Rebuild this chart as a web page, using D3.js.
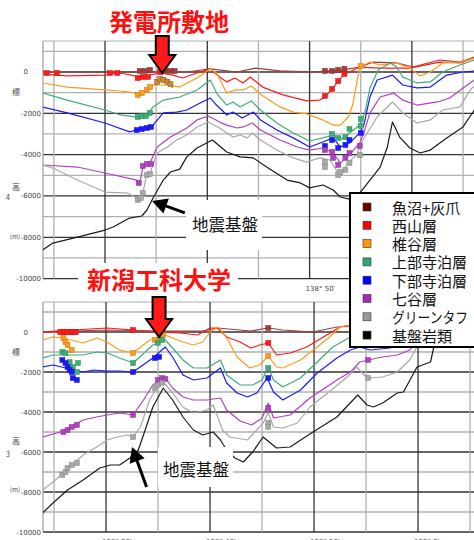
<!DOCTYPE html>
<html lang="ja">
<head>
<meta charset="utf-8">
<title>地質断面図</title>
<script src="https://d3js.org/d3.v7.min.js"></script>
<style>
  body { margin: 0; background: #fff; }
  svg { display: block; }
  .tick { font-family: "DejaVu Sans", sans-serif; font-size: 7px; fill: #444; }
  .jp { font-family: "Noto Sans CJK JP", sans-serif; }
</style>
</head>
<body>
<svg width="474" height="540"></svg>
<script>
// layer names / colours
const layerNames = ["魚沼+灰爪", "西山層", "椎谷層", "上部寺泊層", "下部寺泊層", "七谷層", "グリーンタフ", "基盤岩類"];
const lineColors = ["#a43c3c", "#ff1a1a", "#ff9a1a", "#3cae78", "#1a1aff", "#b040c0", "#a8a8a8", "#1a1a1a"];
const legendColors = ["#6b0000", "#ff0000", "#ff9900", "#2fa870", "#0000ff", "#a828b8", "#999999", "#000000"];

// ---- 発電所敷地 section: [longitude minutes after 138°, elevation m]
const plantUonuma = [[23.9,0],[31.5,0],[34.7,0],[38.0,0],[40.3,150],[42.9,0],[44.7,190],[47.1,50],[50.3,0],[53.3,100],[54.9,240],[56.2,480],[58.5,440],[60.1,240],[62.7,580],[64.7,480],[66.1,730]];
const plantNishiyama = [[23.9,-100],[26.3,-190],[30.0,-150],[31.5,-50],[33.4,-240],[35.4,-50],[36.6,-150],[37.6,-290],[39.0,-50],[40.3,150],[41.2,-240],[41.9,-480],[42.7,-290],[43.5,-530],[44.2,-240],[45.4,-730],[47.4,-1110],[49.7,-1400],[51.0,-1360],[51.6,-1160],[52.2,-820],[52.8,-440],[53.4,-100],[53.9,0],[54.9,240],[56.9,190],[59.8,190],[62.7,480],[64.7,440],[66.1,680]];
const plantShiiya = [[23.9,-530],[26.3,-730],[30.0,-870],[31.5,-920],[33.1,-1020],[34.1,-870],[34.7,-630],[36.1,-630],[37.3,-730],[39.0,-290],[40.3,150],[40.9,-50],[41.9,-1020],[42.7,-870],[43.5,-870],[44.3,-680],[45.3,-1110],[47.1,-1690],[48.4,-1940],[49.7,-2030],[51.3,-2320],[52.3,-2570],[53.0,-2570],[53.8,-2180],[54.2,-1600],[54.9,240],[55.9,480],[56.9,340],[58.5,440],[59.8,190],[60.8,-190],[61.8,0],[63.0,440],[64.7,480],[66.1,680]];
const plantShiiyaArc = [[34.9,-630],[35.3,-390],[35.7,-290],[36.2,-390],[36.6,-770]];
const plantUpperTeradomari = [[23.9,-1020],[26.3,-1360],[30.0,-1840],[31.5,-2080],[33.2,-2180],[34.1,-2080],[34.7,-1690],[35.7,-1360],[37.3,-1210],[39.0,-870],[40.3,-390],[40.9,-1020],[41.9,-1600],[42.5,-1450],[43.2,-1690],[44.3,-1400],[45.2,-1840],[46.8,-2470],[48.4,-2950],[50.0,-3340],[51.3,-3190],[52.3,-3050],[53.0,-3290],[53.9,-2950],[54.9,-2570],[55.4,-1980],[55.9,-770],[56.7,100],[57.9,440],[58.5,240],[59.1,-240],[60.5,-530],[61.8,-480],[63.0,0],[64.7,340],[66.1,580]];
const plantLowerTeradomari = [[23.9,-1690],[26.3,-1980],[30.0,-2470],[32.4,-2900],[33.4,-2760],[34.7,-2570],[35.7,-1980],[37.0,-1940],[38.0,-1840],[39.3,-1500],[40.3,-1260],[40.9,-1600],[41.9,-2080],[42.5,-1940],[43.4,-2230],[44.5,-1940],[45.2,-2320],[46.8,-2810],[48.4,-3190],[50.0,-3630],[51.3,-3390],[52.3,-3190],[53.0,-3630],[53.9,-3440],[54.9,-2950],[55.3,-2570],[55.9,-1210],[56.6,-390],[58.1,-150],[59.1,-630],[60.5,-770],[61.8,-730],[63.4,-150],[65.0,0],[66.1,50]];
const plantNanatani = [[23.9,-4500],[27.3,-4600],[30.0,-4890],[33.1,-5230],[33.4,-5370],[33.7,-4600],[34.4,-4400],[35.1,-3630],[36.4,-3150],[38.0,-2710],[39.0,-2320],[40.1,-2130],[41.2,-2420],[41.9,-2570],[42.9,-2710],[43.5,-2660],[44.4,-2470],[45.2,-2810],[47.1,-3290],[48.8,-3630],[50.0,-3780],[51.3,-3680],[52.3,-3920],[53.0,-4400],[53.7,-4110],[54.9,-3440],[55.3,-2950],[55.9,-1980],[56.9,-1210],[58.2,-1020],[59.1,-1360],[60.5,-1600],[62.5,-1450],[63.7,-1260],[65.0,-770],[66.1,-390]];
const plantGreenTuff = [[23.9,-4500],[24.9,-4650],[27.3,-5230],[30.0,-5810],[32.2,-5860],[33.1,-6100],[33.7,-5860],[34.1,-4890],[34.4,-4890],[35.1,-3920],[36.1,-3630],[37.0,-3290],[38.0,-3050],[39.0,-2660],[40.1,-2420],[41.2,-2710],[41.9,-2950],[42.5,-3150],[43.2,-3050],[43.9,-3190],[44.4,-2950],[45.2,-3290],[46.8,-3780],[48.4,-4160],[49.7,-4360],[51.0,-4160],[52.0,-4260],[52.7,-4840],[53.1,-4990],[53.7,-4400],[54.6,-4020],[55.2,-3290],[56.6,-2180],[58.1,-1450],[59.1,-1980],[60.5,-2470],[61.8,-2320],[63.0,-1840],[64.7,-1690],[65.7,-870],[66.1,-680]];
const plantBasement = [[23.9,-8620],[24.9,-8280],[27.3,-7990],[30.0,-7650],[30.8,-7500],[32.4,-7070],[33.6,-6970],[34.1,-6680],[34.7,-6100],[35.7,-5230],[36.4,-4840],[37.3,-4700],[38.0,-4110],[39.0,-3680],[40.5,-3290],[41.9,-3870],[43.2,-4110],[44.5,-4160],[45.8,-4600],[47.8,-5230],[49.1,-5370],[50.0,-5610],[51.3,-5470],[52.3,-5710],[53.0,-6050],[53.9,-6150],[54.9,-5860],[55.9,-5230],[56.9,-4600],[57.6,-3630],[58.1,-2420],[58.8,-3150],[59.8,-3680],[60.8,-3920],[61.8,-3780],[63.4,-3190],[65.0,-2660],[66.1,-1840]];

// well picks (squares)
const plantUonumaPts = [[33.4,50],[33.9,50],[34.4,100],[35.9,50],[36.4,50],[36.8,50],[51.5,50],[52.2,50],[52.8,100],[53.4,150]];
const plantNishiyamaPts = [[24.3,-50],[25.3,-50],[30.5,-50],[31.2,-50],[33.2,-290],[33.7,-240],[34.2,-240],[35.4,0],[51.5,-1160],[52.2,-820],[52.8,-440],[53.4,-100]];
const plantShiiyaPts = [[33.2,-1110],[33.6,-1020],[34.1,-870],[34.4,-730],[55.0,290]];
const plantShiiyaArcPts = [[35.1,-480],[35.4,-340],[35.7,-390],[36.1,-480],[36.4,-580]];
const plantUpperTeradomariPts = [[33.2,-2180],[33.6,-2130],[34.0,-2130],[34.4,-1980],[52.2,-3000],[52.8,-3190],[53.5,-3150],[53.9,-2760],[55.0,-2610],[55.0,-2280]];
const plantLowerTeradomariPts = [[33.1,-2810],[33.6,-2760],[34.1,-2710],[34.5,-2660],[51.5,-3580],[52.2,-3290],[52.8,-3680],[53.5,-3530],[53.9,-3290],[55.0,-2950]];
const plantNanataniPts = [[33.3,-5370],[33.7,-4550],[34.1,-4450],[34.5,-4450],[51.5,-3780],[52.2,-3870],[52.3,-4160],[52.8,-4500],[53.5,-4160],[53.9,-3920],[54.9,-3580]];
const plantGreenTuffPts = [[33.2,-6200],[33.5,-6100],[33.7,-5860],[34.1,-4990],[34.4,-4940],[51.5,-4360],[51.5,-4600],[52.8,-4990],[53.0,-4840],[53.5,-4740],[53.9,-4400],[54.9,-4020]];

// ---- 新潟工科大学 section
const uniUonuma = [[23.9,0],[30.1,100],[34.9,50],[39.3,50],[40.7,200],[43.9,50],[45.6,200],[47.0,100],[49.9,0],[52.2,250],[53.5,300],[58.3,500],[65.4,600]];
const uniNishiyama = [[23.9,0],[26.8,100],[30.1,200],[32.6,100],[34.9,0],[37.1,-50],[38.8,-150],[39.3,0],[40.0,200],[40.7,200],[41.6,-250],[42.9,-500],[43.9,-800],[44.8,-650],[45.6,-550],[46.4,-1150],[47.7,-1050],[49.3,-750],[50.9,-250],[52.5,250],[53.5,350],[58.3,500],[65.4,600]];
const uniShiiya = [[23.9,-400],[24.9,-250],[25.9,-300],[27.8,-550],[29.1,-300],[30.1,-500],[31.3,-900],[32.6,-1050],[34.2,-400],[35.0,-250],[35.7,-150],[36.4,-300],[37.4,-500],[38.4,-650],[39.3,-500],[40.0,0],[40.8,250],[41.6,-300],[42.6,-1250],[43.8,-1800],[44.8,-1650],[45.6,-1200],[46.4,-1750],[47.0,-1800],[48.7,-1400],[50.3,-750],[51.5,-250],[52.5,250],[53.5,350],[58.3,500],[65.4,600]];
const uniUpperTeradomari = [[23.9,-1300],[24.9,-1150],[27.8,-1150],[29.1,-1000],[30.1,-1050],[31.3,-1300],[32.6,-1550],[34.5,-650],[35.7,-400],[36.4,-800],[37.4,-1400],[38.4,-1800],[39.7,-1800],[41.0,-1400],[41.6,-2150],[42.9,-2650],[44.1,-2650],[45.0,-2400],[45.6,-1750],[46.1,-2400],[47.0,-2750],[48.7,-2300],[50.3,-1500],[51.8,-750],[53.5,-250],[54.1,-50],[58.3,350],[65.4,500]];
const uniLowerTeradomari = [[23.9,-1750],[24.9,-1650],[27.8,-2000],[28.8,-1900],[30.1,-1950],[31.3,-1950],[32.6,-2000],[34.5,-1300],[35.7,-750],[36.4,-1250],[37.4,-2150],[38.4,-2400],[39.7,-2300],[41.0,-1800],[41.6,-2550],[42.6,-3050],[43.6,-3250],[44.5,-3050],[45.5,-2300],[46.1,-3000],[47.0,-3400],[48.7,-2900],[50.3,-2050],[52.2,-1300],[53.5,-900],[54.4,-750],[55.4,-900],[57.3,-800],[58.6,-550],[60.2,-150],[65.4,100]];
const uniNanatani = [[23.9,-5250],[25.6,-5000],[27.8,-4400],[29.1,-4250],[30.1,-4150],[31.3,-4050],[32.6,-4150],[33.6,-3400],[34.5,-2650],[35.2,-2400],[35.7,-2300],[36.4,-2800],[37.4,-3250],[38.4,-3400],[39.7,-3400],[41.0,-3300],[41.6,-3900],[42.9,-4450],[44.0,-4650],[45.0,-4300],[45.6,-3550],[46.1,-4300],[47.7,-4150],[49.6,-3300],[52.2,-2400],[53.5,-2000],[54.4,-1500],[55.2,-1400],[56.6,-1250],[58.0,-1150],[59.2,-900],[59.9,-400],[65.4,350]];
const uniGreenTuff = [[23.9,-7900],[24.9,-7500],[25.9,-7050],[26.5,-6750],[27.8,-6150],[29.1,-5750],[30.1,-5400],[31.1,-5250],[32.0,-5150],[32.6,-5250],[33.3,-4750],[34.2,-3400],[34.9,-2750],[35.5,-2500],[36.4,-3050],[37.4,-3750],[38.4,-4050],[39.7,-3900],[40.3,-3650],[41.2,-4900],[41.9,-5250],[43.6,-5400],[45.1,-4550],[45.6,-4050],[46.1,-4750],[47.0,-4800],[48.4,-4550],[49.6,-3750],[51.3,-3050],[53.2,-2250],[54.1,-1750],[55.1,-2300],[56.6,-2250],[58.0,-2000],[59.2,-1400],[59.9,-750],[60.9,-400],[65.4,200]];
const uniBasement = [[23.9,-9050],[24.9,-8550],[26.3,-7900],[27.8,-7400],[29.4,-6800],[30.4,-6650],[31.3,-6650],[32.3,-6300],[32.6,-6150],[33.1,-5900],[33.6,-5150],[34.5,-3750],[35.5,-2800],[36.4,-3400],[37.4,-4250],[38.4,-4900],[39.3,-5150],[40.3,-5000],[41.0,-5400],[41.6,-5900],[42.4,-6300],[43.2,-6500],[44.1,-6000],[45.1,-5250],[46.4,-5800],[47.7,-5750],[49.9,-5000],[52.2,-4250],[54.2,-3150],[55.1,-3650],[55.7,-3750],[56.6,-3550],[58.0,-3050],[58.6,-3000],[59.9,-1750],[61.2,-1500],[61.6,-550],[62.6,100],[65.4,600]];

const uniUonumaPts = [[25.8,0],[26.2,0],[26.5,0],[26.9,0],[45.6,200]];
const uniNishiyamaPts = [[25.6,0],[26.0,0],[26.3,0],[26.7,0],[27.1,0],[32.6,100],[45.6,-550]];
const uniShiiyaPts = [[25.9,-300],[26.1,-500],[26.3,-650],[26.7,-900],[32.6,-1050],[34.7,-400],[35.2,-250],[35.5,-150],[45.6,-1200]];
const uniUpperTeradomariPts = [[25.8,-1000],[26.1,-1050],[26.5,-1500],[26.8,-1750],[27.2,-2000],[27.3,-1550],[32.6,-1550],[35.0,-550],[35.4,-400],[45.6,-1800]];
const uniLowerTeradomariPts = [[25.8,-1400],[26.1,-1550],[26.3,-1750],[26.5,-1900],[26.7,-2000],[26.8,-2300],[27.2,-2400],[32.6,-2000],[34.7,-1300],[35.1,-1250],[45.6,-2300]];
const uniNanataniPts = [[25.9,-5000],[26.3,-4900],[26.7,-4750],[27.2,-4650],[32.6,-4150],[35.0,-2400],[35.4,-2300],[35.7,-2350],[45.6,-3800],[55.2,-1400]];
const uniGreenTuffPts = [[25.8,-7150],[26.1,-7000],[26.3,-6800],[26.7,-6650],[27.2,-6550],[32.6,-5250],[34.7,-2800],[35.0,-2650],[35.4,-2550],[45.6,-4550],[45.6,-4750],[55.2,-2300]];

const yLabelValues = [0, -2000, -4000, -6000, -8000, -10000];
const plantLonLabels = [50];            // the others sit under the title box / legend
const uniLonLabels = [30, 40, 50, 60];

const svg = d3.select("svg");
const W = 474;

function drawPanel(id, x, y, lines, pts, lonLabels) {
  const g = svg.append("g");
  const x0 = x.range()[0], yTop = y(1500), yBot = y(-10000);

  g.append("clipPath").attr("id", "clip-" + id)
    .append("rect").attr("x", x0).attr("y", yTop).attr("width", W - x0).attr("height", yBot - yTop);

  // grid
  const hv = d3.range(1000, -10001, -1000);
  g.selectAll(".hgrid").data(hv).enter().append("line")
    .attr("x1", x0).attr("x2", W)
    .attr("y1", d => y(d)).attr("y2", d => y(d))
    .attr("stroke", d => d % 2000 === 0 ? "#333" : "#b0b0b0")
    .attr("stroke-width", 1.3);
  g.append("line").attr("x1", x0).attr("x2", W).attr("y1", yTop).attr("y2", yTop)
    .attr("stroke", "#b0b0b0").attr("stroke-width", 1.2);
  const vv = d3.range(25, x.domain()[1], 5);
  g.selectAll(".vgrid").data(vv).enter().append("line")
    .attr("x1", d => x(d)).attr("x2", d => x(d))
    .attr("y1", yTop).attr("y2", yBot)
    .attr("stroke", d => d % 10 === 0 ? "#333" : "#b0b0b0")
    .attr("stroke-width", 1.3);
  g.append("line").attr("x1", x0).attr("x2", x0).attr("y1", yTop).attr("y2", yBot)
    .attr("stroke", "#999").attr("stroke-width", 1.2);

  // y labels
  g.selectAll(".ylab").data(yLabelValues).enter().append("text")
    .attr("class", "tick")
    .attr("x", d => d === 0 ? 28 : 41)
    .attr("y", d => y(d) + 2.5)
    .attr("text-anchor", "end")
    .text(d => d);

  // x labels
  g.selectAll(".xlab").data(lonLabels).enter().append("text")
    .attr("class", "tick")
    .attr("x", d => x(d) - 4)
    .attr("y", yBot + 12)
    .text(d => d < 60 ? "138°  " + d + "′" : "139°  " + (d - 60) + "′");

  const body = g.append("g").attr("clip-path", "url(#clip-" + id + ")");
  const line = d3.line().x(d => x(d[0])).y(d => y(d[1]));

  lines.forEach((pts0, i) => {
    body.append("path").datum(pts0)
      .attr("d", line)
      .attr("fill", "none")
      .attr("stroke", lineColors[i])
      .attr("stroke-width", 1.2)
      .attr("stroke-linejoin", "round");
  });

  pts.forEach((list, i) => {
    body.selectAll(null).data(list).enter().append("rect")
      .attr("x", d => x(d[0]) - 2.5)
      .attr("y", d => y(d[1]) - 2.5)
      .attr("width", 5).attr("height", 5)
      .attr("fill", lineColors[i])
      .attr("stroke", d3.color(lineColors[i]).darker(0.7))
      .attr("stroke-width", 0.5);
  });
  return body;
}

// scales
const plantX = d3.scaleLinear().domain([23.94, 66.07]).range([43, 474]);
const plantY = d3.scaleLinear().domain([1500, -10000]).range([41, 278.6]);
const uniX = d3.scaleLinear().domain([23.94, 65.38]).range([43, 474]);
const uniY = d3.scaleLinear().domain([1500, -10000]).range([302, 532]);

const plantBody = drawPanel("plant", plantX, plantY,
  [plantUonuma, plantNishiyama, plantShiiya, plantUpperTeradomari, plantLowerTeradomari, plantNanatani, plantGreenTuff, plantBasement],
  [plantUonumaPts, plantNishiyamaPts, plantShiiyaPts, plantUpperTeradomariPts, plantLowerTeradomariPts, plantNanataniPts, plantGreenTuffPts, []],
  plantLonLabels);

// anticline arc in the 椎谷層 near the site
plantBody.append("path").datum(plantShiiyaArc)
  .attr("d", d3.line().x(d => plantX(d[0])).y(d => plantY(d[1])))
  .attr("fill", "none").attr("stroke", "#cc8a33").attr("stroke-width", 1.6);
plantBody.selectAll(null).data(plantShiiyaArcPts).enter().append("rect")
  .attr("x", d => plantX(d[0]) - 2.5).attr("y", d => plantY(d[1]) - 2.5)
  .attr("width", 5).attr("height", 5)
  .attr("fill", "#cc8a33").attr("stroke", "#8a5a1a").attr("stroke-width", 0.5);

drawPanel("uni", uniX, uniY,
  [uniUonuma, uniNishiyama, uniShiiya, uniUpperTeradomari, uniLowerTeradomari, uniNanatani, uniGreenTuff, uniBasement],
  [uniUonumaPts, uniNishiyamaPts, uniShiiyaPts, uniUpperTeradomariPts, uniLowerTeradomariPts, uniNanataniPts, uniGreenTuffPts, []],
  uniLonLabels);

// side labels
const sideLabels = [
  {t: "標", x: 16, y: 95, s: 8}, {t: "高", x: 16, y: 190, s: 8}, {t: "4", x: 8, y: 200, s: 7}, {t: "(m)", x: 15, y: 239, s: 6.5},
  {t: "標", x: 16, y: 355, s: 8}, {t: "高", x: 16, y: 444, s: 8}, {t: "3", x: 8, y: 457, s: 7}, {t: "(m)", x: 15, y: 492, s: 6.5}
];
svg.selectAll(".side").data(sideLabels).enter().append("text")
  .attr("class", "jp").attr("x", d => d.x).attr("y", d => d.y)
  .attr("text-anchor", "middle").attr("font-size", d => d.s).attr("fill", "#444")
  .text(d => d.t);

// white boxes behind labels
svg.append("rect").attr("x", 78).attr("y", 263).attr("width", 160).attr("height", 33).attr("fill", "#fff");
svg.append("rect").attr("x", 186).attr("y", 200).attr("width", 76).attr("height", 50).attr("fill", "#fff");
svg.append("rect").attr("x", 158).attr("y", 447).attr("width", 75).attr("height", 40).attr("fill", "#fff");

// titles
svg.append("text").attr("class", "jp").attr("x", 169).attr("y", 31)
  .attr("text-anchor", "middle").attr("font-size", 24).attr("font-weight", "bold")
  .attr("fill", "#ff1010").text("発電所敷地");
svg.append("text").attr("class", "jp").attr("x", 159).attr("y", 289)
  .attr("text-anchor", "middle").attr("font-size", 24).attr("font-weight", "bold")
  .attr("fill", "#ff1010").text("新潟工科大学");

// 地震基盤 notes
svg.append("text").attr("class", "jp").attr("x", 225).attr("y", 231)
  .attr("text-anchor", "middle").attr("font-size", 16.5).attr("fill", "#111").text("地震基盤");
svg.append("text").attr("class", "jp").attr("x", 196).attr("y", 476)
  .attr("text-anchor", "middle").attr("font-size", 16.5).attr("fill", "#111").text("地震基盤");

// arrows
function blackArrow(tail, tip) {
  const dx = tip[0] - tail[0], dy = tip[1] - tail[1];
  const L = Math.hypot(dx, dy), ux = dx / L, uy = dy / L;
  const hl = 15, hw = 8;
  const bx = tip[0] - ux * hl, by = tip[1] - uy * hl;
  svg.append("line").attr("x1", tail[0]).attr("y1", tail[1]).attr("x2", bx + ux * 2).attr("y2", by + uy * 2)
    .attr("stroke", "#000").attr("stroke-width", 3);
  svg.append("path")
    .attr("d", `M${tip[0]},${tip[1]}L${bx - uy * hw},${by + ux * hw}L${bx + uy * hw},${by - ux * hw}Z`)
    .attr("fill", "#000");
}
blackArrow([plantX(37.8), plantY(-6820)], [plantX(34.6), plantY(-6240)]);
blackArrow([uniX(33.9), uniY(-7750)], [uniX(32.5), uniY(-5750)]);

function redArrow(cx, top, tip) {
  const sw = 6.5, hw = 13, hl = 18;
  const hb = tip - hl;
  svg.append("path")
    .attr("d", `M${cx - sw},${top}L${cx + sw},${top}L${cx + sw},${hb}L${cx + hw},${hb}L${cx},${tip}L${cx - hw},${hb}L${cx - sw},${hb}Z`)
    .attr("fill", "#ff1a1a").attr("stroke", "#000").attr("stroke-width", 2).attr("stroke-linejoin", "miter");
}
redArrow(plantX(35.6), 36, plantY(-50));
redArrow(uniX(35.1), 297, uniY(-250));

// legend
const lg = svg.append("g");
lg.append("rect").attr("x", 350).attr("y", 193).attr("width", 140).attr("height", 154)
  .attr("fill", "#fff").attr("stroke", "#000").attr("stroke-width", 2);
const rows = lg.selectAll(".row").data(layerNames).enter().append("g")
  .attr("transform", (d, i) => `translate(0, ${207 + i * 18.3})`);
rows.append("rect").attr("x", 363).attr("y", -4).attr("width", 8).attr("height", 8)
  .attr("fill", (d, i) => legendColors[i]).attr("stroke", "#333").attr("stroke-width", 0.6);
rows.append("text").attr("class", "jp").attr("x", 392).attr("y", 0)
  .attr("dominant-baseline", "central").attr("font-size", 15).attr("fill", "#111")
  .text(d => d)
  .each(function () {
    // keep long katakana entries inside the box, as in the original
    const w = this.getComputedTextLength();
    if (w > 76) d3.select(this).attr("textLength", 76).attr("lengthAdjust", "spacingAndGlyphs");
  });
</script>
</body>
</html>
